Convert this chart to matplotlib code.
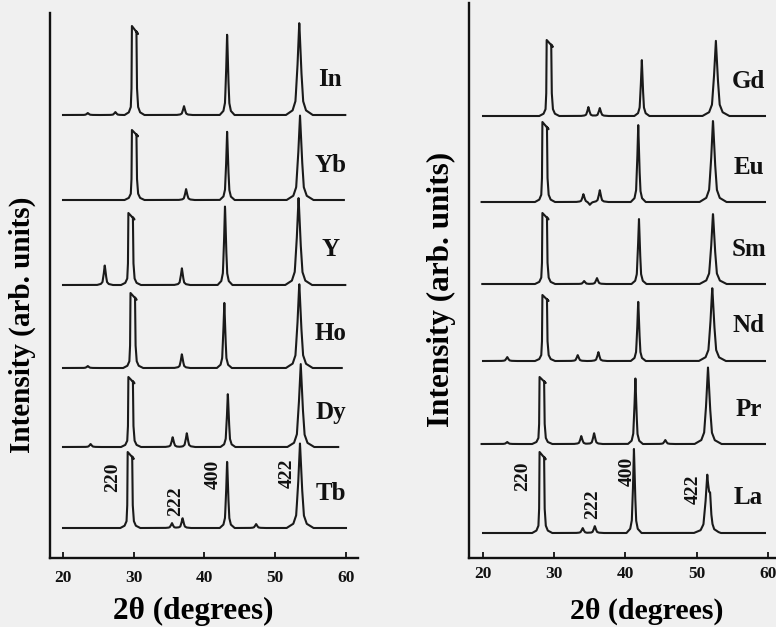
import numpy as np
import matplotlib
matplotlib.use('Agg')
import matplotlib.pyplot as plt

plt.rcParams['font.family'] = ['Liberation Serif', 'DejaVu Serif']
plt.rcParams['font.weight'] = 'bold'

# ---------------- data (2theta in degrees, heights in arbitrary units) -------------
left_samples = ['In', 'Yb', 'Y', 'Ho', 'Dy', 'Tb']
left_offsets = [443, 358, 273, 190, 111, 30]
left_start = [20.0, 20.0, 20.0, 20.0, 20.0, 20.0]
left_end = [59.9, 59.7, 59.9, 59.4, 58.9, 60.0]
left_220_pos = [30.1, 30.1, 29.6, 29.9, 29.6, 29.5]
left_220_h = [89, 70, 72, 75, 70, 76]
left_400_pos = [43.2, 43.2, 42.9, 42.8, 43.3, 43.2]
left_400_h = [82, 69, 80, 66, 54, 68]
left_422_pos = [53.4, 53.5, 53.3, 53.4, 53.6, 53.5]
left_422_h = [93, 85, 88, 85, 84, 85]
left_minor_pos = [[23.5, 27.4, 37.1], [37.4], [25.9, 36.8], [23.5, 36.8],
                  [23.9, 35.5, 37.5], [35.4, 36.9, 47.3]]
left_minor_h = [[2, 3, 9], [11], [20, 17], [2, 14], [3, 10, 14], [5, 10, 4]]

right_samples = ['Gd', 'Eu', 'Sm', 'Nd', 'Pr', 'La']
right_offsets = [442, 356, 274, 197, 114, 25]
right_start = [20.0, 19.8, 19.9, 20.0, 19.8, 20.0]
right_end = [59.6, 59.6, 59.6, 59.6, 59.6, 59.6]
right_220_pos = [29.3, 28.7, 28.7, 28.7, 28.3, 28.3]
right_220_h = [76, 80, 71, 66, 67, 81]
right_400_pos = [42.3, 41.8, 41.9, 41.8, 41.4, 41.2]
right_400_h = [57, 77, 66, 61, 66, 85]
right_422_pos = [52.7, 52.3, 52.3, 52.2, 51.6, 51.5]
right_422_h = [76, 82, 71, 74, 77, 56]
right_minor_pos = [[34.8, 36.4], [34.1, 35.0, 36.4], [34.2, 36.0], [23.4, 33.3, 36.2],
                   [23.4, 33.8, 35.6, 45.6], [34.0, 35.7, 51.9]]
right_minor_h = [[9, 8], [8, -3, 12], [3, 6], [4, 6, 9], [2, 8, 11, 4], [5, 7, 22]]

hkl_labels = ['220', '222', '400', '422']
left_hkl_x = [27.0, 35.9, 41.3, 51.7]
left_hkl_y = [81, 57, 84, 85]
right_hkl_x = [25.6, 35.4, 40.2, 49.5]
right_hkl_y = [82, 54, 87, 69]

# ---------------- line-shape templates (style) ----------------
T_OFF = np.array([-7, -3.5, -2, -1, 0, 1, 2, 3.5, 7], float)
T_FRAC = np.array([0, 0.05, 0.15, 0.5, 1, 0.5, 0.15, 0.05, 0], float)
C_OFF = np.array([-1.4, -0.8, -0.52, -0.42, -0.36, 0.5, 0.28, 0.36, 0.52, 0.8, 1.4])
C_FRAC = np.array([0, 0.03, 0.09, 0.3, 1.0, 0.91, 0.94, 0.3, 0.09, 0.03, 0])


def build_trace(x0, x1, c220, h220, peaks):
    grid = np.linspace(x0, x1, 2000)
    yg = np.zeros_like(grid)
    for (p, h, w) in peaks:
        yg += np.interp(grid, p + T_OFF * w, T_FRAC * h, left=0, right=0)
    lo = c220 + C_OFF[0]
    hi = c220 + C_OFF[-1]
    ml = grid < lo
    mr = grid > hi
    xs = np.concatenate([grid[ml], c220 + C_OFF, grid[mr]])
    ys = np.concatenate([yg[ml], C_FRAC * h220, yg[mr]])
    return xs, ys


W, H = 776, 627
fig = plt.figure(figsize=(W / 100, H / 100), dpi=100)
bg = '#f0f0f0'
fig.patch.set_facecolor(bg)

ax_l = fig.add_axes([50 / W, 69 / H, 308 / W, 545 / H])
ax_r = fig.add_axes([469 / W, 69 / H, 307 / W, 555 / H])


def draw_panel(ax, names, offs, xs0, xs1, p220, h220, p400, h400, p422, h422,
               mpos, mh, xlim, ylim, lab_x, hx, hy, tickpad,
               ylab_fs, ylab_xy, xlab_fs, xlab_xy):
    ax.set_facecolor(bg)
    for i, nm in enumerate(names):
        peaks = [(p400[i], h400[i], 0.15), (p422[i], h422[i], 0.27)]
        peaks += [(p, h, 0.16) for p, h in zip(mpos[i], mh[i])]
        x, y = build_trace(xs0[i], xs1[i], p220[i], h220[i], peaks)
        ax.plot(x, y + offs[i], color='#1a1a1a', lw=1.5, solid_joinstyle='round')
        ax.text(lab_x, offs[i] + 35, nm, fontsize=18, fontweight='bold',
                ha='center', va='center', color='#111111')
    for lab, x, y in zip(hkl_labels, hx, hy):
        ax.text(x, y, lab, rotation=90, fontsize=14, fontweight='bold',
                ha='center', va='center', color='#111111')
    ax.set_xlim(*xlim)
    ax.set_ylim(*ylim)
    ax.set_yticks([])
    ax.set_xticks([20, 30, 40, 50, 60])
    ax.tick_params(axis='x', direction='in', length=4, width=1.3, pad=tickpad,
                   labelsize=12.5, colors='#111111')
    for lbl in ax.get_xticklabels():
        lbl.set_fontweight('bold')
    for s in ['top', 'right']:
        ax.spines[s].set_visible(False)
    for s in ['left', 'bottom']:
        ax.spines[s].set_linewidth(1.7)
        ax.spines[s].set_color('#111111')
    ax.set_xlabel('2θ (degrees)', fontsize=xlab_fs, fontweight='bold')
    ax.set_ylabel('Intensity (arb. units)', fontsize=ylab_fs, fontweight='bold')
    ax.yaxis.set_label_coords(*ylab_xy)
    ax.xaxis.set_label_coords(*xlab_xy)
    ax.yaxis.label.set_va('center')
    ax.xaxis.label.set_va('center')


draw_panel(ax_l, left_samples, left_offsets, left_start, left_end,
           left_220_pos, left_220_h, left_400_pos, left_400_h,
           left_422_pos, left_422_h, left_minor_pos, left_minor_h,
           (18.16, 61.7), (0, 545), 57.8, left_hkl_x, left_hkl_y, 9,
           21, (-0.091, 0.4275), 22.5, (0.464, -0.099))
draw_panel(ax_r, right_samples, right_offsets, right_start, right_end,
           right_220_pos, right_220_h, right_400_pos, right_400_h,
           right_422_pos, right_422_h, right_minor_pos, right_minor_h,
           (18.03, 61.15), (0, 555), 57.3, right_hkl_x, right_hkl_y, 6,
           22.5, (-0.091, 0.483), 21.5, (0.58, -0.097))

fig.savefig('out.png', dpi=100, facecolor=bg)
